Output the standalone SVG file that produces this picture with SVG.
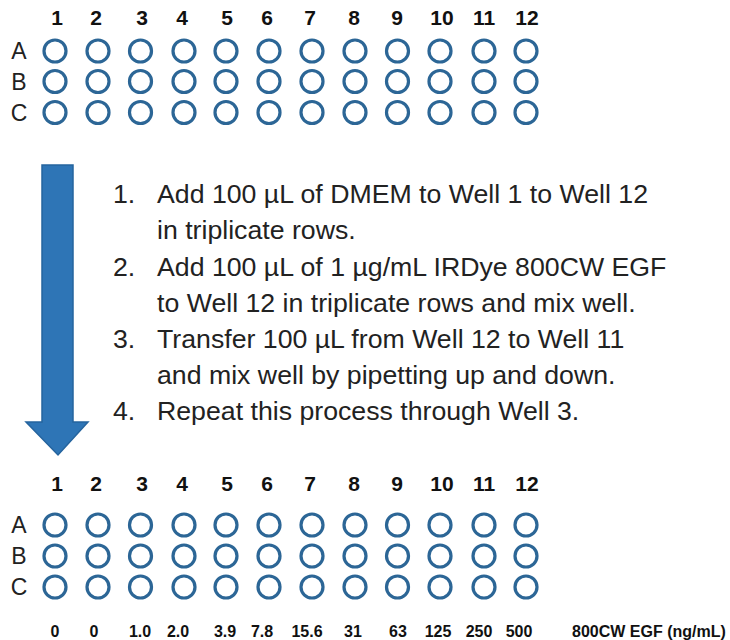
<svg xmlns="http://www.w3.org/2000/svg" width="730" height="640" viewBox="0 0 730 640">
<defs>
<style>
.w{fill:none;stroke:#2C6696;stroke-width:3.2}
.col{font-family:"Liberation Sans",Arial,sans-serif;font-weight:bold;font-size:21px;fill:#111;text-anchor:middle}
.row{font-family:"Liberation Sans",Arial,sans-serif;font-size:23px;fill:#222;text-anchor:middle}
.ins{font-family:"Liberation Sans",Arial,sans-serif;font-size:26.7px;fill:#222}
.val{font-family:"Liberation Sans",Arial,sans-serif;font-weight:bold;font-size:16px;fill:#111;text-anchor:middle}
</style>
<g id="wellrow">
<circle class="w" cx="55" cy="0" r="11"/><circle class="w" cx="98" cy="0" r="11"/><circle class="w" cx="140.5" cy="0" r="11"/><circle class="w" cx="184" cy="0" r="11"/><circle class="w" cx="226" cy="0" r="11"/><circle class="w" cx="269" cy="0" r="11"/><circle class="w" cx="312" cy="0" r="11"/><circle class="w" cx="355" cy="0" r="11"/><circle class="w" cx="397.5" cy="0" r="11"/><circle class="w" cx="440" cy="0" r="11"/><circle class="w" cx="484" cy="0" r="11"/><circle class="w" cx="526" cy="0" r="11"/>
</g>
<g id="collabels">
<text x="57" class="col">1</text><text x="96" class="col">2</text><text x="142" class="col">3</text><text x="182" class="col">4</text><text x="227" class="col">5</text><text x="267" class="col">6</text><text x="310" class="col">7</text><text x="354" class="col">8</text><text x="397" class="col">9</text><text x="442" class="col">10</text><text x="484" class="col">11</text><text x="527" class="col">12</text>
</g>
</defs>
<rect width="730" height="640" fill="#fff"/>
<g id="plate-top">
<use href="#collabels" y="25"/>
<text x="19" y="59" class="row">A</text>
<text x="19" y="89.5" class="row">B</text>
<text x="19" y="120.5" class="row">C</text>
<use href="#wellrow" y="51"/>
<use href="#wellrow" y="81.5"/>
<use href="#wellrow" y="112.5"/>
</g>
<g id="connectors">
<path d="M42,165 H73 V422 H88 L58,455 L26,422 H42 Z" fill="#2E75B6" stroke="#25649E" stroke-width="1.5" stroke-linejoin="miter"/>
</g>
<g id="instructions" class="ins">
<text x="113" y="203">1.</text><text x="157" y="203">Add 100 µL of DMEM to Well 1 to Well 12</text>
<text x="157" y="239">in triplicate rows.</text>
<text x="113" y="275.5">2.</text><text x="157" y="275.5">Add 100 µL of 1 µg/mL IRDye 800CW EGF</text>
<text x="157" y="311.5">to Well 12 in triplicate rows and mix well.</text>
<text x="113" y="348">3.</text><text x="157" y="348">Transfer 100 µL from Well 12 to Well 11</text>
<text x="157" y="384">and mix well by pipetting up and down.</text>
<text x="113" y="420">4.</text><text x="157" y="420">Repeat this process through Well 3.</text>
</g>
<g id="plate-bottom">
<use href="#collabels" y="491"/>
<text x="19" y="533" class="row">A</text>
<text x="19" y="564" class="row">B</text>
<text x="19" y="595" class="row">C</text>
<use href="#wellrow" y="525"/>
<use href="#wellrow" y="556"/>
<use href="#wellrow" y="587"/>
</g>
<g id="values">
<text x="55" y="637" class="val">0</text><text x="94" y="637" class="val">0</text><text x="140" y="637" class="val">1.0</text><text x="178" y="637" class="val">2.0</text><text x="225" y="637" class="val">3.9</text><text x="262" y="637" class="val">7.8</text><text x="307" y="637" class="val">15.6</text><text x="353" y="637" class="val">31</text><text x="398" y="637" class="val">63</text><text x="438" y="637" class="val">125</text><text x="479" y="637" class="val">250</text><text x="519" y="637" class="val">500</text>
<text x="572" y="637" class="val" style="text-anchor:start">800CW EGF (ng/mL)</text>
</g>
</svg>
